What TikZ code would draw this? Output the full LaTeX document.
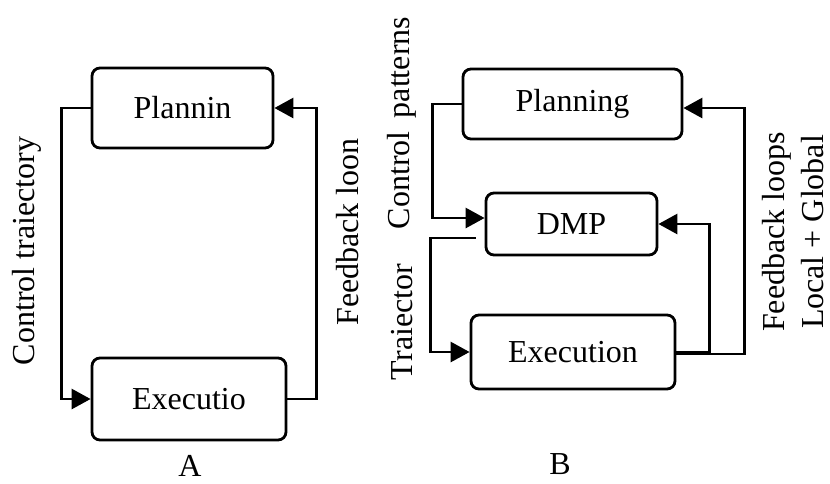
\documentclass[tikz,border=0pt]{standalone}
\usepackage{fontspec}
\setmainfont{Liberation Serif}
\usetikzlibrary{arrows.meta, positioning, calc}

\begin{document}
\begin{tikzpicture}[
  x=1pt, y=-1pt,
  font=\fontsize{32}{38}\selectfont,
  blk/.style={draw, line width=2.8pt, rounded corners=8pt, inner sep=0pt},
  lbl/.style={rotate=90, inner sep=0pt},
  ar/.style={-{Triangle[length=19pt, width=20pt]}, line width=2.8pt}
]
\useasboundingbox (0,0) rectangle (830,483);
% A: two blocks
\node[blk, minimum width=181pt, minimum height=80pt] (planA) at (182.5,108) {Plannin};
\node[blk, minimum width=194pt, minimum height=82pt] (execA) at (189,399) {Executio};
\draw[ar] (planA.west) -- ++(-29,0) |- (execA.west);
\draw[ar] (execA.east) -- ++(29,0) |- (planA.east);
\node[lbl] (ctrlA) at (27,251) {Control traiectory};
\node[lbl] (fbA) at (348,232) {Feedback loon};
\node (capA) at (190,466) {A};
% B: three blocks
\node[blk, minimum width=219pt, minimum height=70pt] (planB) at (572.5,104) {Planning};
\node[blk, minimum width=171pt, minimum height=62pt] (dmpB) at (571.5,224) {DMP};
\node[blk, minimum width=204pt, minimum height=74pt] (execB) at (573,352) {Execution};
\draw[ar] (planB.west) -- ++(-29,0) |- ([yshift=6pt]dmpB.west);
\draw[ar, shorten <=9pt] ([yshift=-14pt]dmpB.west) -- ++(-54,0) |- (execB.west);
\draw[ar] (execB.east) -- ++(33,0) |- (dmpB.east);
\draw[ar] ([yshift=-2pt]execB.east) -- ++(68,0) |- ([yshift=-4pt]planB.east);
\node[lbl] (ctrlB) at (402,123) {Control\, patterns};
\node[lbl] (trajB) at (402,322) {Traiector};
\node[lbl] (fbB) at (777,232) {Feedback loops};
\node[lbl] (lgB) at (813,232) {Local + Global};
\node (capB) at (560,464) {B};
\end{tikzpicture}
\end{document}
